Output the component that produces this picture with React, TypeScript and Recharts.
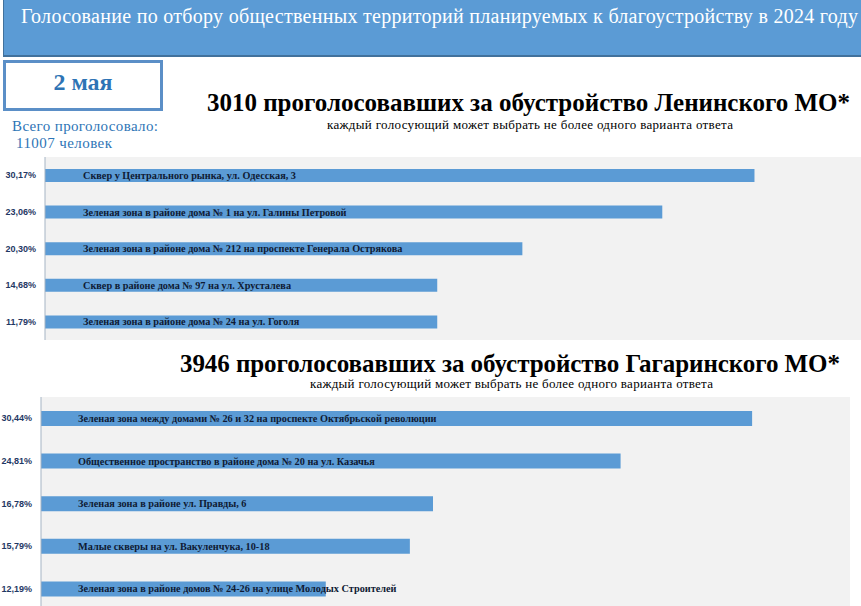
import React from 'react';
import { BarChart, Bar, XAxis, YAxis, CartesianGrid, LabelList } from 'recharts';

// Ленинский МО
const leninPercents = ['30,17%', '23,06%', '20,30%', '14,68%', '11,79%'];
const leninNames = [
  'Сквер у Центрального рынка, ул. Одесская, 3',
  'Зеленая зона в районе дома № 1 на ул. Галины Петровой',
  'Зеленая зона в районе дома № 212 на проспекте Генерала Острякова',
  'Сквер в районе дома № 97 на ул. Хрусталева',
  'Зеленая зона в районе дома № 24 на ул. Гоголя',
];
const leninValues = [30.17, 26.25, 20.3, 16.68, 16.68];

// Гагаринский МО
const gagarinPercents = ['30,44%', '24,81%', '16,78%', '15,79%', '12,19%'];
const gagarinNames = [
  'Зеленая зона между домами № 26 и 32 на проспекте Октябрьской революции',
  'Общественное пространство в районе дома № 20 на ул. Казачья',
  'Зеленая зона в районе ул. Правды, 6',
  'Малые скверы на ул. Вакуленчука, 10-18',
  'Зеленая зона в районе домов № 24-26 на улице Молодых Строителей',
];
const gagarinValues = [30.44, 24.81, 16.78, 15.79, 12.19];

const leninData = leninPercents.map((p, i) => ({ label: p, name: leninNames[i], value: leninValues[i] }));
const gagarinData = gagarinPercents.map((p, i) => ({ label: p, name: gagarinNames[i], value: gagarinValues[i] }));

const BAR = '#5b9bd5';
const SERIF = "'Liberation Serif'";
const SANS = "'Liberation Sans'";

const serif = (size: number, bold = false) => ({ fontFamily: SERIF, fontSize: size, fontWeight: bold ? 700 : 400 });

const makeTick = (right: number, size: number) => (props: any) => {
  const { y, payload } = props;
  return (
    <text x={right} y={y} dy={size * 0.35} textAnchor="end" style={{ fontFamily: SANS, fontWeight: 700, fontSize: size }} fill="#1f3864">
      {payload.value}
    </text>
  );
};

const makeLabel = (offset: number, size: number) => (props: any) => {
  const { x, y, height, value } = props;
  return (
    <text x={Number(x) + offset} y={Number(y) + Number(height) / 2} dy={size * 0.35} style={serif(size, true)} fill="#0f1a33">
      {value}
    </text>
  );
};

function VoteChart({ data, width, height, axisWidth, barSize, tickRight, tickSize, labelOffset, labelSize, max }: any) {
  return (
    <BarChart layout="vertical" width={width} height={height} data={data} margin={{ top: 0, right: 0, bottom: 0, left: 0 }}>
      <CartesianGrid horizontal={false} vertical={false} fill="#f2f2f2" />
      <XAxis type="number" hide domain={[0, max]} />
      <YAxis
        type="category"
        dataKey="label"
        width={axisWidth}
        tickLine={false}
        axisLine={{ stroke: '#a5b4c4' }}
        tick={makeTick(tickRight, tickSize)}
        interval={0}
      />
      <Bar dataKey="value" fill={BAR} barSize={barSize} isAnimationActive={false}>
        <LabelList dataKey="name" content={makeLabel(labelOffset, labelSize)} />
      </Bar>
    </BarChart>
  );
}

export default function App() {
  return (
    <div style={{ position: 'absolute', left: 0, top: 0, width: 861, height: 606, overflow: 'hidden', background: '#fff' }}>
      {/* шапка */}
      <div style={{ position: 'absolute', left: 3, top: 0, width: 858, height: 55, background: BAR, borderBottom: '2px solid #41719c', borderLeft: '1px solid #41719c' }} />
      <div style={{ position: 'absolute', left: 3, top: 60, width: 154, height: 45, border: '3px solid #5b8fc7' }} />

      <div style={{ position: 'absolute', left: 0, top: 157 }}>
        <VoteChart data={leninData} width={861} height={183} axisWidth={45} barSize={13}
          tickRight={36} tickSize={9} labelOffset={38} labelSize={10.25} max={34.7} />
      </div>
      <div style={{ position: 'absolute', left: 0, top: 397 }}>
        <VoteChart data={gagarinData} width={850} height={213} axisWidth={41} barSize={15}
          tickRight={32} tickSize={9} labelOffset={37} labelSize={10.25} max={34.63} />
      </div>

      <svg width={861} height={606} style={{ position: 'absolute', left: 0, top: 0, pointerEvents: 'none' }}>
        <text x={21} y={23} style={serif(20)} fill="#fff" textLength={837} lengthAdjust="spacing">
          Голосование по отбору общественных территорий планируемых к благоустройству в 2024 году
        </text>
        <text x={83} y={90} textAnchor="middle" style={serif(24, true)} fill="#2e74b5">
          2 мая
        </text>
        <text x={12} y={131} style={serif(15)} fill="#2e75b6" textLength={146} lengthAdjust="spacing">
          Всего проголосовало:
        </text>
        <text x={16} y={148} style={serif(15)} fill="#2e75b6" textLength={96} lengthAdjust="spacing">
          11007 человек
        </text>
        <text x={207} y={111} style={serif(25, true)} fill="#000" textLength={643} lengthAdjust="spacing">
          3010 проголосовавших за обустройство Ленинского МО*
        </text>
        <text x={327} y={129} style={serif(13)} fill="#000" textLength={406} lengthAdjust="spacing">
          каждый голосующий может выбрать не более одного варианта ответа
        </text>
        <text x={180} y={372} style={serif(25, true)} fill="#000" textLength={660} lengthAdjust="spacing">
          3946 проголосовавших за обустройство Гагаринского МО*
        </text>
        <text x={310} y={388} style={serif(13)} fill="#000" textLength={403} lengthAdjust="spacing">
          каждый голосующий может выбрать не более одного варианта ответа
        </text>
      </svg>
    </div>
  );
}
